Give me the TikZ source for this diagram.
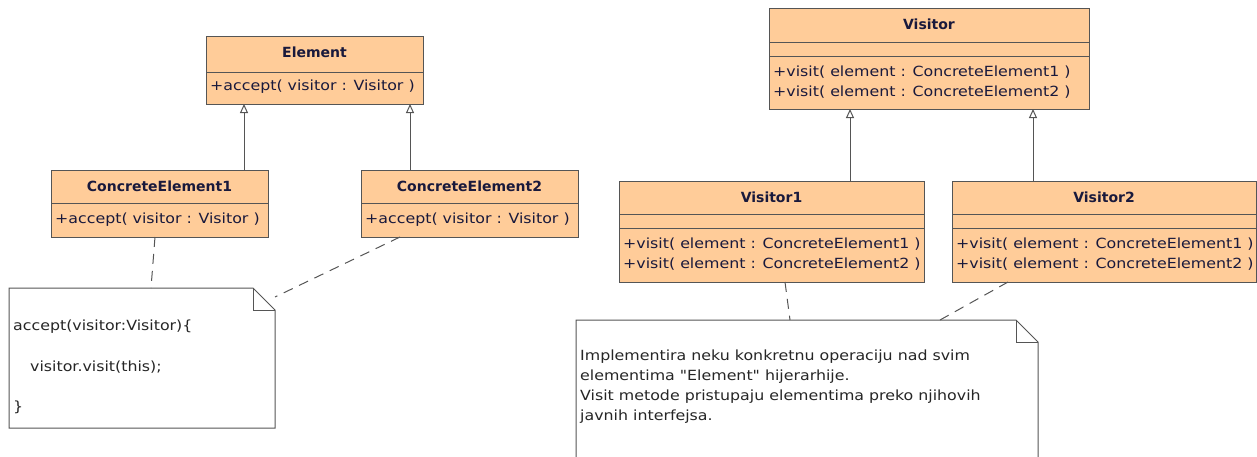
\documentclass[tikz,border=0pt]{standalone}
\usepackage{fontspec}
\setmainfont{DejaVu Sans}
\newfontfamily\mthfont{DejaVu Sans}[FakeStretch=1.13]
\usetikzlibrary{arrows.meta,calc}
\definecolor{boxfill}{RGB}{255,204,153}
\definecolor{boxline}{RGB}{85,85,85}
\definecolor{txt}{RGB}{25,25,60}
\tikzset{
  umlbox/.style={draw=boxline, fill=boxfill, line width=1pt, anchor=north west, inner sep=0pt, rectangle},
  ttl/.style={font=\fontsize{14}{16}\selectfont\bfseries, text=txt, inner sep=0pt},
  mth/.style={font=\mthfont\fontsize{14}{16}\selectfont, text=txt, inner sep=0pt, anchor=west},
  gen/.style={draw=boxline, line width=1pt, -{Triangle[open, width=8pt, length=9pt, fill=white]}},
  notelink/.style={draw=boxline, line width=1pt, dash pattern=on 10pt off 7pt},
  notetxt/.style={font=\mthfont\fontsize{14}{16}\selectfont, text=black!85, inner sep=0pt, anchor=west},
}
\begin{document}
\begin{tikzpicture}[x=1pt,y=-1pt]
\useasboundingbox (0,0) rectangle (1257,456);

% Element
\node[umlbox, minimum width=217pt, minimum height=68pt] (el) at (206,36) {};
\draw[boxline, line width=1pt] (206,72) -- (423,72);
\node[ttl] (elt) at (314.5,52) {Element};
\node[mth] (elm) at (210,87) {+accept( visitor : Visitor )};

% ConcreteElement1
\node[umlbox, minimum width=217pt, minimum height=67pt] (ce1) at (51,170) {};
\draw[boxline, line width=1pt] (51,203) -- (268,203);
\node[ttl] (ce1t) at (159.5,186) {ConcreteElement1};
\node[mth] (ce1m) at (55,220) {+accept( visitor : Visitor )};

% ConcreteElement2
\node[umlbox, minimum width=217pt, minimum height=67pt] (ce2) at (361,170) {};
\draw[boxline, line width=1pt] (361,203) -- (578,203);
\node[ttl] (ce2t) at (469.5,186) {ConcreteElement2};
\node[mth] (ce2m) at (365,220) {+accept( visitor : Visitor )};

\coordinate (g1s) at (244,170); \coordinate (g1e) at (244,104);
\coordinate (g2s) at (410,170); \coordinate (g2e) at (410,104);
\draw[gen] (g1s) -- (g1e);
\draw[gen] (g2s) -- (g2e);

% Visitor
\node[umlbox, minimum width=320pt, minimum height=101pt] (vi) at (769,8) {};
\draw[boxline, line width=1pt] (769,42) -- (1089,42);
\draw[boxline, line width=1pt] (769,56) -- (1089,56);
\node[ttl] (vit) at (929,24) {Visitor};
\node[mth] (vim1) at (773,72) {+visit( element : ConcreteElement1 )};
\node[mth] (vim2) at (773,92) {+visit( element : ConcreteElement2 )};

% Visitor1
\node[umlbox, minimum width=305pt, minimum height=101pt] (v1) at (619,181) {};
\draw[boxline, line width=1pt] (619,214) -- (924,214);
\draw[boxline, line width=1pt] (619,228) -- (924,228);
\node[ttl] (v1t) at (771.5,197) {Visitor1};
\node[mth] (v1m1) at (623,244) {+visit( element : ConcreteElement1 )};
\node[mth] (v1m2) at (623,264) {+visit( element : ConcreteElement2 )};

% Visitor2
\node[umlbox, minimum width=304pt, minimum height=101pt] (v2) at (952,181) {};
\draw[boxline, line width=1pt] (952,214) -- (1256,214);
\draw[boxline, line width=1pt] (952,228) -- (1256,228);
\node[ttl] (v2t) at (1104,197) {Visitor2};
\node[mth] (v2m1) at (956,244) {+visit( element : ConcreteElement1 )};
\node[mth] (v2m2) at (956,264) {+visit( element : ConcreteElement2 )};

\coordinate (g3s) at (850,181); \coordinate (g3e) at (850,109);
\coordinate (g4s) at (1033,181); \coordinate (g4e) at (1033,109);
\draw[gen] (g3s) -- (g3e);
\draw[gen] (g4s) -- (g4e);

% Note 1
\draw[boxline, line width=1pt, fill=white] (9,288) -- (253,288) -- (275,310) -- (275,428) -- (9,428) -- cycle;
\draw[boxline, line width=1pt] (253,288) -- (253,310) -- (275,310);
\node[notetxt] (n1a) at (13,327) {accept(visitor:Visitor)\{};
\node[notetxt] (n1b) at (30,367) {visitor.visit(this);};
\node[notetxt] (n1c) at (13,407) {\}};
\coordinate (n1top) at (151,288);
\coordinate (n1fold) at (275,297);
\coordinate (ce1bot) at (155,237);
\coordinate (ce2bot) at (400,237);
\draw[notelink] (ce1bot) -- (n1top);
\draw[notelink] (ce2bot) -- (n1fold);

% Note 2
\draw[boxline, line width=1pt, fill=white] (576,470) -- (576,320) -- (1016,320) -- (1038,342) -- (1038,470);
\draw[boxline, line width=1pt] (1016,320) -- (1016,342) -- (1038,342);
\node[notetxt] (n2a) at (580,357) {Implementira neku konkretnu operaciju nad svim};
\node[notetxt] (n2b) at (580,377) {elementima "Element" hijerarhije.};
\node[notetxt] (n2c) at (580,397) {Visit metode pristupaju elementima preko njihovih};
\node[notetxt] (n2d) at (580,417) {javnih interfejsa.};
\coordinate (n2top1) at (790,320);
\coordinate (n2top2) at (940,320);
\coordinate (v1bot) at (785,282);
\coordinate (v2bot) at (1008,282);
\draw[notelink] (v1bot) -- (n2top1);
\draw[notelink] (v2bot) -- (n2top2);
\end{tikzpicture}
\end{document}
